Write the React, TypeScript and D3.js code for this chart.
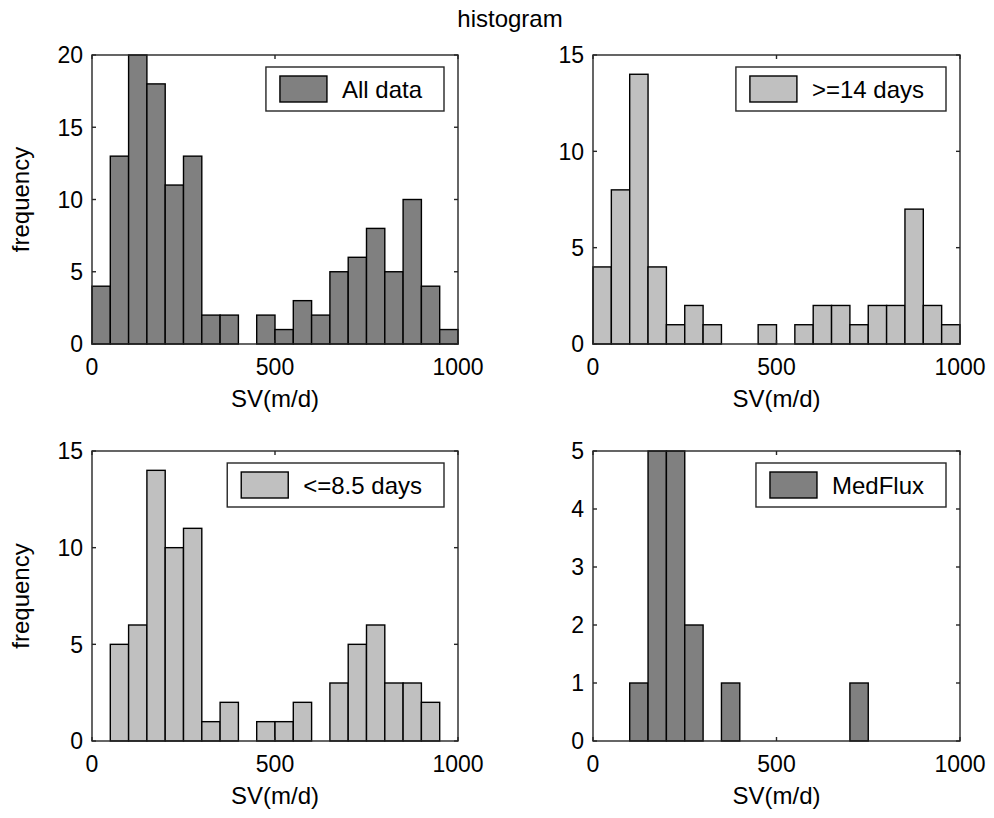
import React, { useEffect, useRef } from "react";
import * as d3 from "d3";

// ---- data ----
const binStarts = [0, 50, 100, 150, 200, 250, 300, 350, 400, 450, 500, 550, 600, 650, 700, 750, 800, 850, 900, 950];
const binWidth = 50;
const allData = [4, 13, 20, 18, 11, 13, 2, 2, 0, 2, 1, 3, 2, 5, 6, 8, 5, 10, 4, 1];
const days14 = [4, 8, 14, 4, 1, 2, 1, 0, 0, 1, 0, 1, 2, 2, 1, 2, 2, 7, 2, 1];
const days85 = [0, 5, 6, 14, 10, 11, 1, 2, 0, 1, 1, 2, 0, 3, 5, 6, 3, 3, 2, 0];
const medFlux = [0, 0, 1, 5, 5, 2, 0, 1, 0, 0, 0, 0, 0, 0, 1, 0, 0, 0, 0, 0];
const xTicks = [0, 500, 1000];
const yTicks1 = [0, 5, 10, 15, 20];
const yTicks2 = [0, 5, 10, 15];
const yTicks3 = [0, 5, 10, 15];
const yTicks4 = [0, 1, 2, 3, 4, 5];
const legendNames = ["All data", ">=14 days", "<=8.5 days", "MedFlux"];
const xLabel = "SV(m/d)";
const yLabel = "frequency";
const title = "histogram";

const DARK = "#808080";
const LIGHT = "#c0c0c0";
const FONT = "'Liberation Sans', Arial, sans-serif";

export default function App() {
  const ref = useRef<SVGSVGElement>(null);

  useEffect(() => {
    const svg = d3.select(ref.current);
    svg.selectAll("*").remove();

    const panels = [
      { x0: 92, x1: 458, y0: 55, y1: 344, data: allData, ticks: yTicks1, name: legendNames[0], color: DARK, ylab: true },
      { x0: 593, x1: 960, y0: 55, y1: 344, data: days14, ticks: yTicks2, name: legendNames[1], color: LIGHT, ylab: false },
      { x0: 92, x1: 458, y0: 451, y1: 741, data: days85, ticks: yTicks3, name: legendNames[2], color: LIGHT, ylab: true },
      { x0: 593, x1: 960, y0: 451, y1: 741, data: medFlux, ticks: yTicks4, name: legendNames[3], color: DARK, ylab: false },
    ];

    svg.append("text")
      .attr("x", 510).attr("y", 27)
      .attr("text-anchor", "middle")
      .attr("font-family", FONT).attr("font-size", 24)
      .attr("fill", "#000")
      .text(title);

    panels.forEach((p) => {
      const x = d3.scaleLinear().domain([0, 1000]).range([p.x0, p.x1]);
      const yMax = p.ticks[p.ticks.length - 1];
      const y = d3.scaleLinear().domain([0, yMax]).range([p.y1, p.y0]);
      const g = svg.append("g");

      // plot background
      g.append("rect").attr("x", p.x0).attr("y", p.y0).attr("width", p.x1 - p.x0).attr("height", p.y1 - p.y0).attr("fill", "#fff");

      // bars
      const bins = binStarts.map((s, i) => ({ s, v: p.data[i] })).filter((d) => d.v > 0);
      g.selectAll("rect.bar").data(bins).enter().append("rect")
        .attr("class", "bar")
        .attr("x", (d) => x(d.s))
        .attr("y", (d) => y(d.v))
        .attr("width", (d) => x(d.s + binWidth) - x(d.s))
        .attr("height", (d) => y(0) - y(d.v))
        .attr("fill", p.color)
        .attr("stroke", "#000")
        .attr("stroke-width", 1.4);

      // frame
      g.append("rect").attr("x", p.x0).attr("y", p.y0).attr("width", p.x1 - p.x0).attr("height", p.y1 - p.y0)
        .attr("fill", "none").attr("stroke", "#262626").attr("stroke-width", 1.4);

      const tl = 4;
      // y ticks
      p.ticks.forEach((t) => {
        const yy = y(t);
        g.append("line").attr("x1", p.x0).attr("x2", p.x0 + tl).attr("y1", yy).attr("y2", yy).attr("stroke", "#262626").attr("stroke-width", 1.4);
        g.append("line").attr("x1", p.x1).attr("x2", p.x1 - tl).attr("y1", yy).attr("y2", yy).attr("stroke", "#262626").attr("stroke-width", 1.4);
        g.append("text").attr("x", p.x0 - 9).attr("y", yy).attr("dy", "0.36em")
          .attr("text-anchor", "end").attr("font-family", FONT).attr("font-size", 23).attr("fill", "#000").text(String(t));
      });
      // x ticks
      xTicks.forEach((t) => {
        const xx = x(t);
        g.append("line").attr("x1", xx).attr("x2", xx).attr("y1", p.y1).attr("y2", p.y1 - tl).attr("stroke", "#262626").attr("stroke-width", 1.4);
        g.append("line").attr("x1", xx).attr("x2", xx).attr("y1", p.y0).attr("y2", p.y0 + tl).attr("stroke", "#262626").attr("stroke-width", 1.4);
        g.append("text").attr("x", xx).attr("y", p.y1 + 31)
          .attr("text-anchor", "middle").attr("font-family", FONT).attr("font-size", 23).attr("fill", "#000").text(String(t));
      });

      // x label
      g.append("text").attr("x", (p.x0 + p.x1) / 2).attr("y", p.y1 + 63)
        .attr("text-anchor", "middle").attr("font-family", FONT).attr("font-size", 24).attr("fill", "#000").text(xLabel);

      if (p.ylab) {
        const cy = (p.y0 + p.y1) / 2;
        g.append("text").attr("transform", `translate(29,${cy}) rotate(-90)`)
          .attr("text-anchor", "middle").attr("font-family", FONT).attr("font-size", 24).attr("fill", "#000").text(yLabel);
      }

      // legend
      const lg = g.append("g");
      const txt = lg.append("text").attr("font-family", FONT).attr("font-size", 24).attr("fill", "#000").text(p.name);
      const tw = (txt.node() as SVGTextElement).getComputedTextLength();
      const bw = tw + 98;
      const bh = 44;
      const bx = p.x1 - 14 - bw;
      const by = p.y0 + 12;
      lg.insert("rect", "text").attr("x", bx).attr("y", by).attr("width", bw).attr("height", bh)
        .attr("fill", "#fff").attr("stroke", "#262626").attr("stroke-width", 1.4);
      lg.append("rect").attr("x", bx + 14).attr("y", by + 9).attr("width", 47).attr("height", 26)
        .attr("fill", p.color).attr("stroke", "#000").attr("stroke-width", 1.4);
      txt.attr("x", bx + 76).attr("y", by + bh / 2).attr("dy", "0.36em");
    });
  }, []);

  return (
    <svg ref={ref} width={994} height={818} style={{ position: "absolute", left: 0, top: 0, background: "#fff" }} />
  );
}
